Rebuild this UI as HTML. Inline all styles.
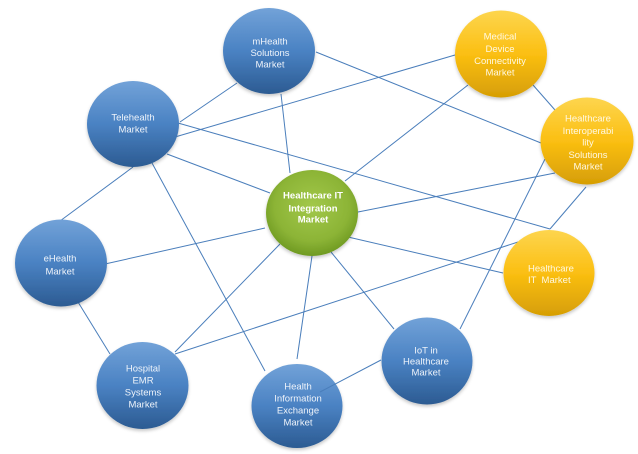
<!DOCTYPE html>
<html>
<head>
<meta charset="utf-8">
<style>
  html, body { margin: 0; padding: 0; background: #ffffff; }
  body { width: 638px; height: 454px; overflow: hidden; }
  svg { display: block; }
  text { font-family: "Liberation Sans", "DejaVu Sans", sans-serif; font-size: 9.5px; text-anchor: middle; }
  .b { fill: #eef3fa; }
  .g { fill: #fff8e2; }
  .c { fill: #ffffff; font-weight: bold; font-size: 9.5px; }
</style>
</head>
<body>
<svg width="638" height="454" viewBox="0 0 638 454" xmlns="http://www.w3.org/2000/svg">
  <defs>
    <linearGradient id="blue" x1="0" y1="0" x2="0" y2="1">
      <stop offset="0" stop-color="#72a2d8"/>
      <stop offset="0.5" stop-color="#4a82c3"/>
      <stop offset="1" stop-color="#2c5b92"/>
    </linearGradient>
    <linearGradient id="gold" x1="0" y1="0" x2="0" y2="1">
      <stop offset="0" stop-color="#fdd54e"/>
      <stop offset="0.5" stop-color="#fbbf12"/>
      <stop offset="1" stop-color="#d69e05"/>
    </linearGradient>
    <radialGradient id="green" cx="0.5" cy="0.42" r="0.58">
      <stop offset="0" stop-color="#a2c84a"/>
      <stop offset="0.7" stop-color="#8cb436"/>
      <stop offset="1" stop-color="#6f9a22"/>
    </radialGradient>
    <filter id="sh" x="-20%" y="-20%" width="140%" height="150%">
      <feDropShadow dx="0" dy="2" stdDeviation="1.6" flood-color="#000" flood-opacity="0.22"/>
    </filter>
  </defs>

  <g stroke="#4a7ebb" stroke-width="1" fill="none">
    <line x1="180" y1="122" x2="237" y2="83"/>
    <line x1="175" y1="137" x2="455" y2="55"/>
    <line x1="178" y1="123" x2="550" y2="229"/>
    <line x1="167" y1="154" x2="270" y2="193"/>
    <line x1="133" y1="167" x2="60" y2="221"/>
    <line x1="152" y1="163" x2="265" y2="371"/>
    <line x1="281" y1="94" x2="290" y2="173"/>
    <line x1="316" y1="52" x2="541" y2="143"/>
    <line x1="345" y1="181" x2="468" y2="85"/>
    <line x1="358" y1="212" x2="555" y2="173"/>
    <line x1="533" y1="85" x2="555" y2="110"/>
    <line x1="545" y1="159" x2="460" y2="329"/>
    <line x1="586" y1="187" x2="550" y2="229"/>
    <line x1="518" y1="242" x2="175" y2="354"/>
    <line x1="348" y1="237" x2="503" y2="273"/>
    <line x1="331" y1="252" x2="394" y2="329"/>
    <line x1="312" y1="256" x2="297" y2="359"/>
    <line x1="280" y1="244" x2="175" y2="352"/>
    <line x1="105" y1="264" x2="265" y2="228"/>
    <line x1="78" y1="302" x2="110" y2="354"/>
  </g>

  <g filter="url(#sh)">
    <ellipse cx="269" cy="51" rx="46" ry="43" fill="url(#blue)"/>
    <ellipse cx="133" cy="124" rx="46" ry="43" fill="url(#blue)"/>
    <ellipse cx="61" cy="263" rx="46" ry="43.5" fill="url(#blue)"/>
    <ellipse cx="142.5" cy="385.5" rx="46" ry="43.5" fill="url(#blue)"/>
    <ellipse cx="297" cy="406" rx="45.5" ry="42" fill="url(#blue)"/>
    <ellipse cx="427" cy="361" rx="45.5" ry="43.5" fill="url(#blue)"/>
    <ellipse cx="501" cy="54" rx="46" ry="43.5" fill="url(#gold)"/>
    <ellipse cx="587" cy="141" rx="46.5" ry="43.5" fill="url(#gold)"/>
    <ellipse cx="549" cy="273" rx="45.5" ry="43" fill="url(#gold)"/>
    <ellipse cx="312" cy="213" rx="46" ry="43" fill="url(#green)"/>
  </g>

  <line x1="320" y1="392" x2="381" y2="360" stroke="#4a7ebb" stroke-width="1"/>

  <text class="b" x="270" y="44.5">mHealth</text>
  <text class="b" x="270" y="56">Solutions</text>
  <text class="b" x="270" y="67.5">Market</text>

  <text class="b" x="133" y="120.5">Telehealth</text>
  <text class="b" x="133" y="132.5">Market</text>

  <text class="g" x="500" y="39.5">Medical</text>
  <text class="g" x="500" y="52">Device</text>
  <text class="g" x="500" y="64">Connectivity</text>
  <text class="g" x="500" y="75.5">Market</text>

  <text class="g" x="588" y="121.5">Healthcare</text>
  <text class="g" x="588" y="134">Interoperabi</text>
  <text class="g" x="588" y="145.5">lity</text>
  <text class="g" x="588" y="158">Solutions</text>
  <text class="g" x="588" y="169.5">Market</text>

  <text class="c" x="313" y="198.5" textLength="60" lengthAdjust="spacingAndGlyphs">Healthcare IT</text>
  <text class="c" x="313" y="211.5">Integration</text>
  <text class="c" x="313" y="222.5">Market</text>

  <text class="b" x="60" y="261.5">eHealth</text>
  <text class="b" x="60" y="274.5">Market</text>

  <text class="g" x="528" y="271.5" style="text-anchor:start">Healthcare</text>
  <text class="g" x="528" y="283" style="text-anchor:start" xml:space="preserve">IT  Market</text>

  <text class="b" x="143" y="371.5">Hospital</text>
  <text class="b" x="143" y="383.5">EMR</text>
  <text class="b" x="143" y="395.5">Systems</text>
  <text class="b" x="143" y="407.5">Market</text>

  <text class="b" x="298" y="389.5">Health</text>
  <text class="b" x="298" y="401.5">Information</text>
  <text class="b" x="298" y="413.5">Exchange</text>
  <text class="b" x="298" y="425.5">Market</text>

  <text class="b" x="426" y="353.5">IoT in</text>
  <text class="b" x="426" y="364.5">Healthcare</text>
  <text class="b" x="426" y="375.5">Market</text>
</svg>
</body>
</html>
